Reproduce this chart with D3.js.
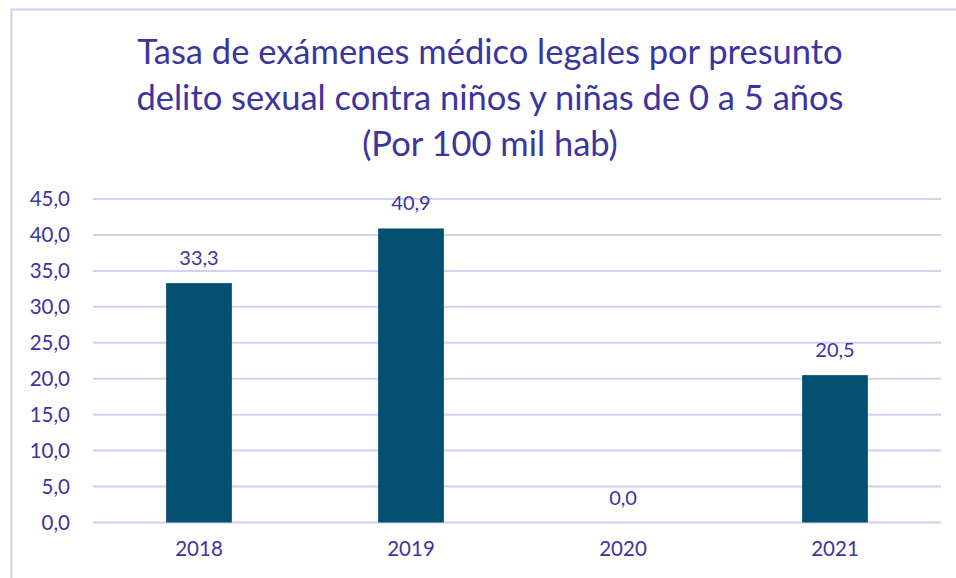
<!DOCTYPE html>
<html>
<head>
<meta charset="utf-8">
<script src="https://cdn.jsdelivr.net/npm/d3@7"></script>
<style>
  body { margin: 0; background: #fff; }
  svg { display: block; }
  text { font-family: Lato, "Open Sans", sans-serif; fill: #3b35a0; }
</style>
</head>
<body>
<svg id="chart" width="956" height="578"></svg>
<script>
const years = ["2018", "2019", "2020", "2021"];
const rates = [33.3, 40.9, 0.0, 20.5];
const yTicks = [0, 5, 10, 15, 20, 25, 30, 35, 40, 45];
const titleLines = [
    "Tasa de exámenes médico legales por presunto",
    "delito sexual contra niños y niñas de 0 a 5 años",
    "(Por 100 mil hab)"
];

const svg = d3.select("#chart");
const fmt = v => v.toFixed(1).replace(".", ",");

// chart frame (only top and left edges visible in the crop)
svg.append("path")
    .attr("d", "M11.5,578 V9.5 H956")
    .attr("fill", "none")
    .attr("stroke", "#d2cef2")
    .attr("stroke-width", 2);

const x = d3.scaleBand()
    .domain(years)
    .range([93, 941])
    .paddingInner(0.69)
    .paddingOuter(0.345);

const y = d3.scaleLinear()
    .domain([0, 45])
    .range([522.5, 199]);

// gridlines
svg.append("g")
    .selectAll("line")
    .data(yTicks)
    .join("line")
    .attr("x1", 93)
    .attr("x2", 941)
    .attr("y1", d => y(d))
    .attr("y2", d => y(d))
    .attr("stroke", "#d4d0f0")
    .attr("stroke-width", 2);

// y axis labels
const yAxis = svg.append("g")
    .attr("transform", "translate(93,0)")
    .call(d3.axisLeft(y).tickValues(yTicks).tickFormat(fmt).tickSize(0).tickPadding(23));
yAxis.select(".domain").remove();
yAxis.selectAll("text")
    .attr("font-size", 20.5)
    .attr("fill", "#3b35a0")
    .style("font-family", "Lato, 'Open Sans', sans-serif");

// x axis labels
const xAxis = svg.append("g")
    .attr("transform", "translate(0,522.5)")
    .call(d3.axisBottom(x).tickSize(0).tickPadding(19));
xAxis.select(".domain").remove();
xAxis.selectAll("text")
    .attr("font-size", 20.5)
    .attr("fill", "#3b35a0")
    .style("font-family", "Lato, 'Open Sans', sans-serif");

// bars
svg.append("g")
    .selectAll("rect")
    .data(years)
    .join("rect")
    .attr("x", d => x(d))
    .attr("y", (d, i) => y(rates[i]))
    .attr("width", x.bandwidth())
    .attr("height", (d, i) => y(0) - y(rates[i]))
    .attr("fill", "#035072");

// value labels
svg.append("g")
    .selectAll("text")
    .data(years)
    .join("text")
    .attr("x", d => x(d) + x.bandwidth() / 2)
    .attr("y", (d, i) => y(rates[i]) - 18)
    .attr("text-anchor", "middle")
    .attr("font-size", 20)
    .text((d, i) => fmt(rates[i]));

// title
svg.append("g")
    .selectAll("text")
    .data(titleLines)
    .join("text")
    .attr("x", 490)
    .attr("y", (d, i) => 64 + i * 46)
    .attr("text-anchor", "middle")
    .attr("font-size", 34.5)
    .text(d => d);
</script>
</body>
</html>
